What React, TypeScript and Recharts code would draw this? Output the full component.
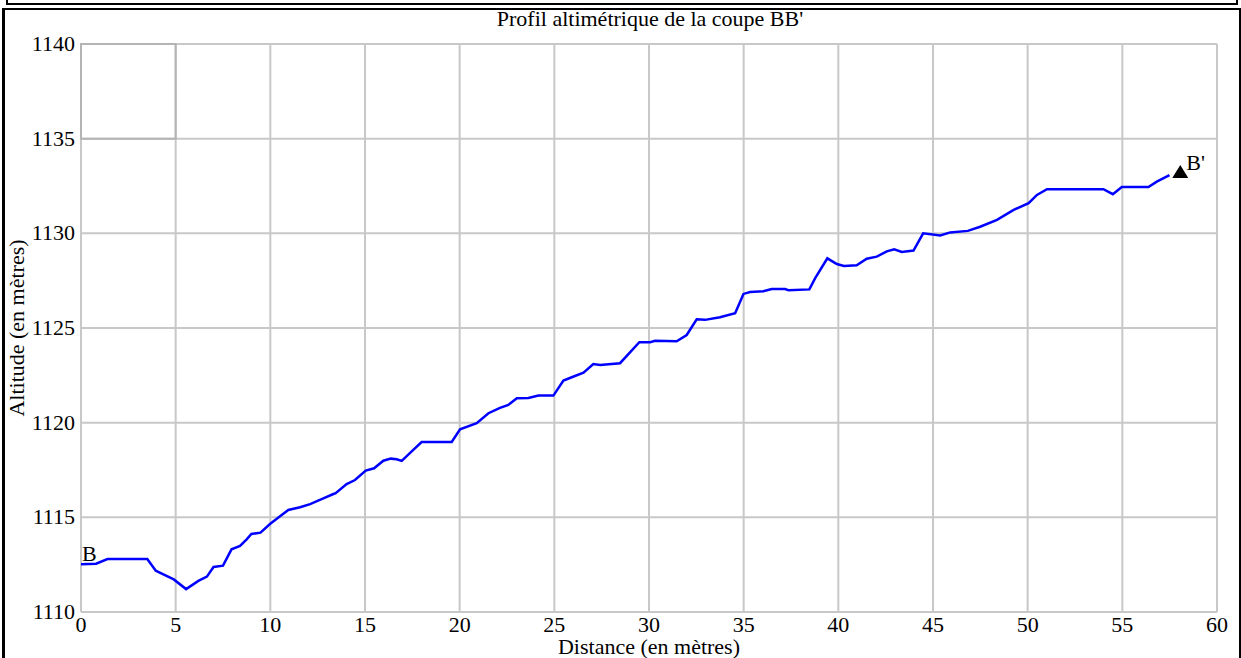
import React from 'react';
import {
  ComposedChart,
  Line,
  Scatter,
  XAxis,
  YAxis,
  CartesianGrid,
  ReferenceArea,
  Label,
} from 'recharts';

// ---- Data ----
const distances = [
  0, 0.8, 1.4, 3.5, 3.95, 4.35, 4.9, 5.55, 6.2, 6.65, 7.0, 7.5, 7.95, 8.4, 8.75, 9.0, 9.48,
  9.98, 10.6, 10.95, 11.57, 12.1, 12.8, 13.3, 13.45, 14.03, 14.47, 15.04, 15.48, 15.97, 16.36,
  16.67, 16.94, 17.55, 17.99, 19.58, 20.02, 20.9, 21.52, 22.13, 22.57, 23.02, 23.63, 24.16,
  24.95, 25.48, 25.92, 26.54, 27.06, 27.42, 28.47, 29.49, 30.06, 30.32, 31.46, 31.99, 32.52,
  32.96, 33.75, 34.55, 34.99, 35.34, 36.04, 36.48, 37.19, 37.36, 38.47, 38.77, 39.42, 39.92,
  40.3, 40.97, 41.5, 42.03, 42.56, 42.95, 43.35, 43.97, 44.48, 45.38, 45.91, 46.84, 47.49,
  48.38, 49.26, 50.05, 50.49, 51.02, 54.0, 54.5, 54.97, 56.38, 56.82, 57.49,
];
const altitudes = [
  1112.52, 1112.55, 1112.8, 1112.8, 1112.18, 1111.99, 1111.72, 1111.21, 1111.64, 1111.87,
  1112.38, 1112.45, 1113.31, 1113.49, 1113.84, 1114.12, 1114.19, 1114.65, 1115.12, 1115.39,
  1115.53, 1115.7, 1116.0, 1116.22, 1116.28, 1116.76, 1116.97, 1117.47, 1117.59, 1117.99,
  1118.1, 1118.07, 1117.98, 1118.56, 1118.98, 1118.98, 1119.65, 1119.97, 1120.5, 1120.78,
  1120.94, 1121.29, 1121.3, 1121.43, 1121.43, 1122.22, 1122.4, 1122.64, 1123.1, 1123.05,
  1123.14, 1124.25, 1124.25, 1124.32, 1124.3, 1124.63, 1125.46, 1125.43, 1125.57, 1125.78,
  1126.8, 1126.9, 1126.94, 1127.06, 1127.06, 1127.0, 1127.04, 1127.62, 1128.68, 1128.38,
  1128.28, 1128.31, 1128.66, 1128.77, 1129.05, 1129.16, 1129.02, 1129.09, 1130.0, 1129.89,
  1130.05, 1130.13, 1130.35, 1130.71, 1131.24, 1131.59, 1132.03, 1132.33, 1132.33, 1132.07,
  1132.45, 1132.45, 1132.73, 1133.07,
];
const xTicks = [0, 5, 10, 15, 20, 25, 30, 35, 40, 45, 50, 55, 60];
const yTicks = [1110, 1115, 1120, 1125, 1130, 1135, 1140];
const markerNames = ['B', "B'"];
const markerDistances = [0, 58.06];
const markerAltitudes = [1112.52, 1133.27];

const title = "Profil altimétrique de la coupe BB'";
const xLabel = 'Distance (en mètres)';
const yLabel = 'Altitude (en mètres)';

const profile = distances.map((d, i) => ({ d, alt: altitudes[i] }));
const markers = markerNames.map((name, i) => ({
  name,
  d: markerDistances[i],
  alt: markerAltitudes[i],
}));

const FONT = '"Liberation Serif", "Times New Roman", serif';
const FS = 22;

const XTick = (props: any) => {
  const { x, y, payload } = props;
  return (
    <text
      x={x}
      y={y + 20}
      textAnchor="middle"
      fontFamily={FONT}
      fontSize={FS}
      fill="#000"
      style={{ fontFamily: FONT }}
    >
      {payload.value}
    </text>
  );
};

const YTick = (props: any) => {
  const { x, y, payload } = props;
  return (
    <text
      x={x}
      y={y + 7}
      textAnchor="end"
      fontFamily={FONT}
      fontSize={FS}
      fill="#000"
      style={{ fontFamily: FONT }}
    >
      {payload.value}
    </text>
  );
};

const MarkerShape = (props: any) => {
  const { cx, cy, payload } = props;
  if (cx == null || cy == null) return null;
  if (payload.name === 'B') {
    return (
      <text x={cx + 1} y={cy - 3} fontFamily={FONT} fontSize={FS} fill="#000">
        {payload.name}
      </text>
    );
  }
  const w = 16;
  const h = 13;
  return (
    <g>
      <polygon
        points={`${cx - w / 2},${cy + h / 2} ${cx + w / 2},${cy + h / 2} ${cx},${cy - h / 2}`}
        fill="#000"
      />
      <text x={cx + 6} y={cy - 1.5} fontFamily={FONT} fontSize={FS} fill="#000">
        {payload.name}
      </text>
    </g>
  );
};

export default function App() {
  return (
    <div
      style={{
        position: 'absolute',
        left: 0,
        top: 0,
        width: 1241,
        height: 658,
        overflow: 'hidden',
        background: '#fff',
        fontFamily: FONT,
      }}
    >
      {/* clipped header box */}
      <div
        style={{
          position: 'absolute',
          left: 6,
          top: -20,
          width: 1228,
          height: 21,
          border: '2px solid #000',
        }}
      />
      {/* main frame */}
      <div
        style={{
          position: 'absolute',
          left: 2,
          top: 8,
          width: 1234,
          height: 700,
          borderTop: '2px solid #000',
          borderLeft: '3px solid #000',
          borderRight: '2px solid #000',
        }}
      />
      <div
        style={{
          position: 'absolute',
          left: 0,
          top: 8,
          width: 1300,
          textAlign: 'center',
          fontSize: FS,
          lineHeight: '22px',
          color: '#000',
        }}
      >
        {title}
      </div>
      <div style={{ position: 'absolute', left: 0, top: 0 }}>
        <ComposedChart
          width={1241}
          height={658}
          margin={{ top: 44, right: 24, bottom: 0, left: 0 }}
          style={{ fontFamily: FONT }}
        >
          <CartesianGrid stroke="#c8c8c8" strokeWidth={2} />
          <ReferenceArea
            x1={0}
            x2={5}
            y1={1135}
            y2={1140}
            fill="none"
            fillOpacity={0}
            stroke="#b4b4b4"
            strokeWidth={2}
          />
          <XAxis
            type="number"
            dataKey="d"
            domain={[0, 60]}
            ticks={xTicks}
            allowDataOverflow
            axisLine={false}
            tickLine={false}
            tickSize={0}
            tickMargin={0}
            height={46}
            tick={<XTick />}
            label={
              <Label
                content={(p: any) => {
                  const vb = p.viewBox || {};
                  return (
                    <text
                      x={vb.x + vb.width / 2}
                      y={vb.y + vb.height - 4}
                      textAnchor="middle"
                      fontFamily={FONT}
                      fontSize={FS}
                      fill="#000"
                    >
                      {xLabel}
                    </text>
                  );
                }}
              />
            }
          />
          <YAxis
            type="number"
            domain={[1110, 1140]}
            ticks={yTicks}
            allowDataOverflow
            axisLine={false}
            tickLine={false}
            tickSize={6}
            tickMargin={0}
            width={81}
            tick={<YTick />}
            label={
              <Label
                content={(p: any) => {
                  const vb = p.viewBox || {};
                  const cx = vb.x + 16;
                  const cy = vb.y + vb.height / 2;
                  return (
                    <text
                      x={cx}
                      y={cy}
                      transform={`rotate(-90 ${cx} ${cy})`}
                      textAnchor="middle"
                      dominantBaseline="central"
                      fontFamily={FONT}
                      fontSize={FS}
                      fill="#000"
                    >
                      {yLabel}
                    </text>
                  );
                }}
              />
            }
          />
          <Line
            data={profile}
            dataKey="alt"
            type="linear"
            stroke="#0000ff"
            strokeWidth={2.5}
            dot={false}
            activeDot={false}
            isAnimationActive={false}
          />
          <Scatter
            data={markers}
            dataKey="alt"
            shape={MarkerShape}
            isAnimationActive={false}
          />
        </ComposedChart>
      </div>
    </div>
  );
}
